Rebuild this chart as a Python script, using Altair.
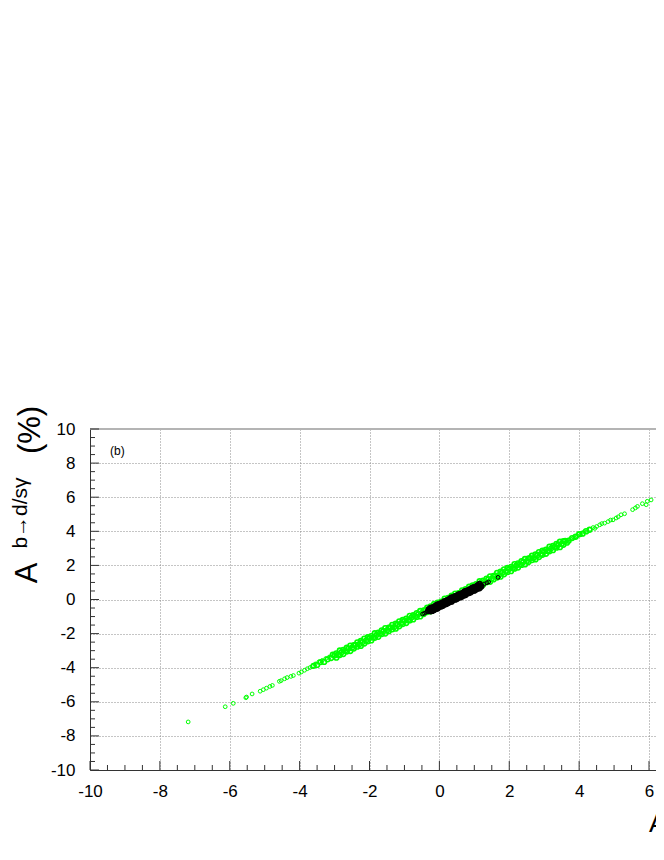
import altair as alt
import pandas as pd

# ---------------- data ----------------
# green open circles (sparse lower-left tail)
G_LO_X = [-7.19, -6.13, -5.90, -5.54, -5.52, -5.36, -5.13, -5.04, -4.95, -4.85, -4.78, -4.58,
          -4.53, -4.43, -4.36, -4.25, -4.18, -4.02, -3.95, -3.86, -3.78, -3.70, -3.64,
          -3.55, -3.45, -3.35, -3.25, -3.15]
G_LO_Y = [-7.18, -6.29, -6.09, -5.76, -5.72, -5.54, -5.38, -5.29, -5.20, -5.10, -5.04, -4.80,
          -4.76, -4.65, -4.58, -4.51, -4.46, -4.32, -4.25, -4.15, -4.06, -3.99, -3.93,
          -3.78, -3.66, -3.57, -3.46, -3.37]

# green dense band, middle row
G_A_X = [-3.6, -3.5, -3.4, -3.3, -3.2, -3.1, -3.0, -2.9, -2.8, -2.7,
         -2.6, -2.5, -2.4, -2.3, -2.2, -2.1, -2.0, -1.9, -1.8, -1.7,
         -1.6, -1.5, -1.4, -1.3, -1.2, -1.1, -1.0, -0.9, -0.8, -0.7,
         -0.6, -0.5, -0.4, -0.3, -0.2, -0.1, 0.0, 0.1, 0.2, 0.3,
         0.4, 0.5, 0.6, 0.7, 0.8, 0.9, 1.0, 1.1, 1.2, 1.3,
         1.4, 1.5, 1.6, 1.7, 1.8, 1.9, 2.0, 2.1, 2.2, 2.3,
         2.4, 2.5, 2.6, 2.7, 2.8, 2.9, 3.0, 3.1, 3.2, 3.3,
         3.4, 3.5, 3.6, 3.7, 3.8, 3.9, 4.0, 4.1, 4.2, 4.3]
G_A_Y = [-3.89, -3.84, -3.67, -3.66, -3.51, -3.43, -3.28, -3.24, -3.09, -3.01,
         -2.88, -2.83, -2.66, -2.64, -2.49, -2.41, -2.26, -2.23, -2.08, -2.00,
         -1.86, -1.81, -1.64, -1.63, -1.48, -1.40, -1.25, -1.21, -1.06, -0.98,
         -0.85, -0.80, -0.63, -0.61, -0.46, -0.38, -0.23, -0.20, -0.05, 0.03,
         0.17, 0.22, 0.39, 0.40, 0.55, 0.63, 0.79, 0.82, 0.97, 1.05,
         1.18, 1.23, 1.40, 1.42, 1.57, 1.65, 1.80, 1.83, 1.98, 2.06,
         2.20, 2.25, 2.42, 2.43, 2.58, 2.66, 2.82, 2.85, 3.00, 3.08,
         3.21, 3.26, 3.43, 3.45, 3.60, 3.68, 3.83, 3.86, 4.01, 4.09]

# green dense band, lower row
G_B_X = [-2.95, -2.85, -2.75, -2.65, -2.55, -2.45, -2.35, -2.25, -2.15, -2.05,
         -1.95, -1.85, -1.75, -1.65, -1.55, -1.45, -1.35, -1.25, -1.15, -1.05,
         -0.95, -0.85, -0.75, -0.65, -0.55, -0.45, -0.35, -0.25, -0.15, -0.05,
         0.05, 0.15, 0.25, 0.35, 0.45, 0.55, 0.65, 0.75, 0.85, 0.95,
         1.05, 1.15, 1.25, 1.35, 1.45, 1.55, 1.65, 1.75, 1.85, 1.95,
         2.05, 2.15, 2.25, 2.35, 2.45, 2.55, 2.65, 2.75, 2.85, 2.95,
         3.05, 3.15, 3.25, 3.35, 3.45, 3.55, 3.65]
G_B_Y = [-3.41, -3.26, -3.20, -3.05, -3.02, -2.88, -2.77, -2.72, -2.58, -2.45,
         -2.40, -2.25, -2.19, -2.03, -2.00, -1.86, -1.75, -1.71, -1.57, -1.44,
         -1.38, -1.23, -1.17, -1.02, -0.99, -0.85, -0.74, -0.69, -0.55, -0.42,
         -0.37, -0.22, -0.16, 0.00, 0.03, 0.17, 0.28, 0.32, 0.46, 0.59,
         0.65, 0.80, 0.86, 1.01, 1.04, 1.18, 1.29, 1.34, 1.48, 1.61,
         1.66, 1.81, 1.87, 2.03, 2.06, 2.20, 2.31, 2.35, 2.49, 2.62,
         2.68, 2.83, 2.89, 3.04, 3.07, 3.21, 3.33]

# green dense band, upper row
G_C_X = [-3.05, -2.95, -2.85, -2.75, -2.65, -2.55, -2.45, -2.35, -2.25, -2.15,
         -2.05, -1.95, -1.85, -1.75, -1.65, -1.55, -1.45, -1.35, -1.25, -1.15,
         -1.05, -0.95, -0.85, -0.75, -0.65, -0.55, -0.45, -0.35, -0.25, -0.15,
         -0.05, 0.05, 0.15, 0.25, 0.35, 0.45, 0.55, 0.65, 0.75, 0.85,
         0.95, 1.05, 1.15, 1.25, 1.35, 1.45, 1.55, 1.65, 1.75, 1.85,
         1.95, 2.05, 2.15, 2.25, 2.35, 2.45, 2.55, 2.65, 2.75, 2.85,
         2.95, 3.05, 3.15, 3.25, 3.35, 3.45, 3.55]
G_C_Y = [-3.23, -3.16, -2.99, -2.95, -2.83, -2.70, -2.67, -2.51, -2.43, -2.29,
         -2.21, -2.15, -1.98, -1.94, -1.81, -1.68, -1.65, -1.49, -1.42, -1.28,
         -1.20, -1.13, -0.96, -0.92, -0.80, -0.67, -0.64, -0.48, -0.40, -0.26,
         -0.18, -0.12, 0.05, 0.09, 0.22, 0.35, 0.38, 0.54, 0.61, 0.75,
         0.83, 0.90, 1.07, 1.11, 1.23, 1.36, 1.39, 1.56, 1.63, 1.77,
         1.85, 1.91, 2.08, 2.12, 2.25, 2.38, 2.41, 2.57, 2.64, 2.78,
         2.86, 2.93, 3.10, 3.14, 3.26, 3.39, 3.42]

# green sparse upper-right tail
G_HI_X = [3.75, 3.85, 3.95, 4.05, 4.15, 4.22, 4.45, 4.65, 4.90, 5.12,
          4.31, 4.40, 4.50, 4.59, 4.73, 4.83, 4.97, 5.06, 5.20, 5.30,
          5.53, 5.61, 5.67, 5.81, 5.92, 5.95, 6.06]
G_HI_Y = [3.55, 3.62, 3.74, 3.80, 3.98, 3.95, 4.17, 4.45, 4.66, 4.85,
          4.12, 4.22, 4.28, 4.38, 4.48, 4.57, 4.67, 4.78, 4.97, 5.03,
          5.27, 5.37, 5.46, 5.62, 5.56, 5.76, 5.84]

# black open circles (dense core)
K0_X = [-0.32, -0.27, -0.22, -0.17, -0.12, -0.07, -0.02, 0.03, 0.08, 0.13, 0.18,
        0.23, 0.28, 0.33, 0.38, 0.43, 0.48, 0.53, 0.58, 0.63, 0.68, 0.73,
        0.78, 0.83, 0.88, 0.93, 0.98, 1.03, 1.08, 1.13, 1.18]
K0_Y = [-0.67, -0.65, -0.55, -0.54, -0.48, -0.41, -0.41, -0.32, -0.27, -0.25, -0.15,
        -0.14, -0.08, -0.01, -0.01, 0.08, 0.13, 0.14, 0.24, 0.25, 0.31, 0.38,
        0.38, 0.47, 0.52, 0.54, 0.64, 0.65, 0.71, 0.78, 0.78]
K1_X = [-0.30, -0.25, -0.20, -0.15, -0.10, -0.05, 0.00, 0.05, 0.10, 0.15,
        0.20, 0.25, 0.30, 0.35, 0.40, 0.45, 0.50, 0.55, 0.60, 0.65,
        0.70, 0.75, 0.80, 0.85, 0.90, 0.95, 1.00, 1.05, 1.10, 1.15]
K1_Y = [-0.57, -0.49, -0.46, -0.43, -0.35, -0.28, -0.27, -0.21, -0.17, -0.09,
        -0.06, -0.03, 0.05, 0.12, 0.13, 0.19, 0.23, 0.30, 0.33, 0.36,
        0.44, 0.51, 0.52, 0.58, 0.62, 0.70, 0.73, 0.76, 0.84, 0.91]
K2_X = [-0.25, -0.20, -0.15, -0.10, -0.05, 0.00, 0.05, 0.10, 0.15, 0.20,
        0.25, 0.30, 0.35, 0.40, 0.45, 0.50, 0.55, 0.60, 0.65, 0.70,
        0.75, 0.80, 0.85, 0.90, 0.95, 1.00, 1.05, 1.10, 1.15, 1.20]
K2_Y = [-0.69, -0.67, -0.61, -0.55, -0.53, -0.43, -0.41, -0.37, -0.29, -0.27,
        -0.21, -0.15, -0.13, -0.03, -0.01, 0.03, 0.11, 0.12, 0.18, 0.24,
        0.26, 0.36, 0.38, 0.42, 0.50, 0.52, 0.58, 0.64, 0.66, 0.76]
# black open circles (isolated)
K_SP_X = [-0.48, -0.43, -0.38, 1.22, 1.28, 1.36, 1.41, 1.68]
K_SP_Y = [-0.85, -0.81, -0.75, 0.84, 0.91, 0.98, 1.03, 1.30]

# axes (the reference image is cut at the right, just past x = 6)
X_DOMAIN = [-10, 6.2]
Y_DOMAIN = [-10, 10]
X_MAJOR = [-10, -8, -6, -4, -2, 0, 2, 4, 6]
Y_MAJOR = [-10, -8, -6, -4, -2, 0, 2, 4, 6, 8, 10]
X_MINOR = [-9.5, -9, -8.5, -7.5, -7, -6.5, -5.5, -5, -4.5, -3.5, -3, -2.5, -1.5, -1, -0.5,
           0.5, 1, 1.5, 2.5, 3, 3.5, 4.5, 5, 5.5]
Y_MINOR = [-9.5, -9, -8.5, -7.5, -7, -6.5, -5.5, -5, -4.5, -3.5, -3, -2.5, -1.5, -1, -0.5,
           0.5, 1, 1.5, 2.5, 3, 3.5, 4.5, 5, 5.5, 6.5, 7, 7.5, 8.5, 9, 9.5]
TOP_EDGE = [10]

green_sparse = pd.DataFrame({"x": G_LO_X + G_HI_X, "y": G_LO_Y + G_HI_Y})
green_dense = pd.DataFrame({"x": G_A_X + G_B_X + G_C_X, "y": G_A_Y + G_B_Y + G_C_Y})
black_dense = pd.DataFrame({"x": K0_X + K1_X + K2_X, "y": K0_Y + K1_Y + K2_Y})
black_sparse = pd.DataFrame({"x": K_SP_X, "y": K_SP_Y})

# ---------------- chart ----------------
W, H = 566, 341
FONT = "Liberation Sans"
xs = alt.Scale(domain=X_DOMAIN, nice=False, zero=False)
ys = alt.Scale(domain=Y_DOMAIN, nice=False, zero=False)

def axis(vals, pad):
    return alt.Axis(values=vals, grid=True, gridDash=[1, 2], gridColor="#8a8a8a",
                    gridWidth=1, ticks=False, tickSize=0, domainColor="#333333",
                    domainWidth=1, labelFont=FONT, labelFontSize=17, labelColor="black",
                    labelPadding=pad, labelFlush=False, labelOverlap=False,
                    labelBound=False, labelExpr="'' + datum.value", title=None)

XA = axis(X_MAJOR, 13)
YA = axis(Y_MAJOR, 15)

def xenc(field):
    return alt.X(field + ":Q", scale=xs, axis=XA)

def yenc(field):
    return alt.Y(field + ":Q", scale=ys, axis=YA)

def rings(df, color, size, sw):
    return alt.Chart(df).mark_point(shape="circle", filled=False, size=size,
                                    strokeWidth=sw, color=color, opacity=1).encode(
        x=xenc("x"), y=yenc("y"))

GREEN = "#00ff00"
g_sparse = rings(green_sparse, GREEN, 14, 1.0)
g_dense = rings(green_dense, GREEN, 22, 1.6)
k_dense = rings(black_dense, "#000000", 22, 1.6)
k_sparse = rings(black_sparse, "#000000", 14, 1.0)

TICK = "#333333"
xt_major = alt.Chart(pd.DataFrame({"v": X_MAJOR})).mark_rule(color=TICK, strokeWidth=1).encode(
    x=xenc("v"), y=alt.value(H), y2=alt.value(H - 9))
xt_minor = alt.Chart(pd.DataFrame({"v": X_MINOR})).mark_rule(color=TICK, strokeWidth=1).encode(
    x=xenc("v"), y=alt.value(H), y2=alt.value(H - 5))
yt_major = alt.Chart(pd.DataFrame({"v": Y_MAJOR})).mark_rule(color=TICK, strokeWidth=1).encode(
    y=yenc("v"), x=alt.value(0), x2=alt.value(9))
yt_minor = alt.Chart(pd.DataFrame({"v": Y_MINOR})).mark_rule(color=TICK, strokeWidth=1).encode(
    y=yenc("v"), x=alt.value(0), x2=alt.value(5))
top_edge = alt.Chart(pd.DataFrame({"v": TOP_EDGE})).mark_rule(
    color="#b4b4b4", strokeWidth=2).encode(
    y=yenc("v"), x=alt.value(0), x2=alt.value(W))

def label(txt, size, px, py, angle=0, align="center"):
    return alt.Chart(pd.DataFrame({"t": [txt]})).mark_text(
        font=FONT, fontSize=size, angle=angle, align=align, baseline="alphabetic",
        color="black").encode(text="t:N", x=alt.value(px), y=alt.value(py))

panel = label("(b)", 12, 20, 25.5, align="left")
ytitle_a = label("A", 31, -53.5, 144, angle=270)
ytitle_sup = label("b\u2192d/s\u03b3", 21, -63, 84, angle=270)
ytitle_pct = label("(%)", 31, -50, 1, angle=270)
xtitle_a = label("A", 26, 559, 403, align="left")

chart = alt.layer(
    top_edge, g_sparse, g_dense, k_dense, k_sparse,
    xt_major, xt_minor, yt_major, yt_minor,
    panel, ytitle_a, ytitle_sup, ytitle_pct, xtitle_a,
).properties(
    width=W, height=H,
    padding={"left": 82, "top": 421, "right": 0, "bottom": 80},
    autosize=alt.AutoSizeParams(type="none"),
    background="white",
).configure_view(strokeWidth=0)

chart.save("out.html", embed_options={"renderer": "svg", "actions": False})
